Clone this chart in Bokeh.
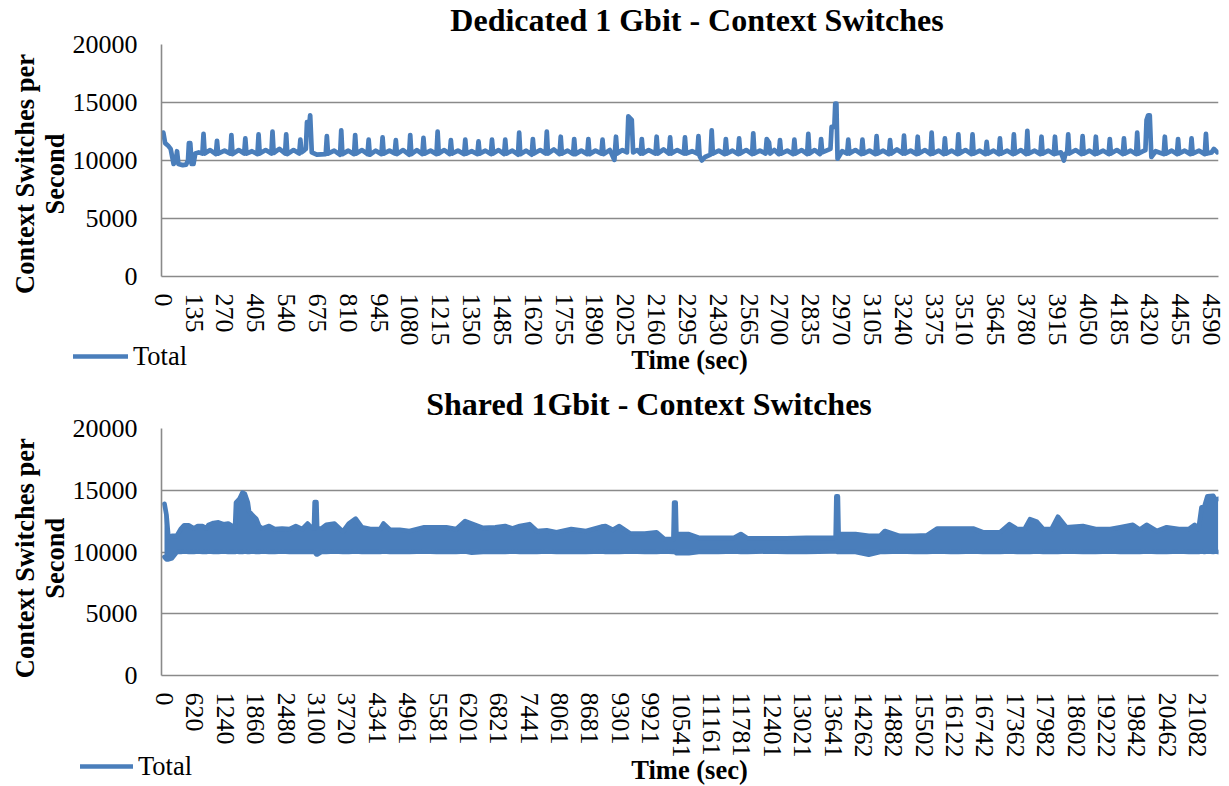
from bokeh.plotting import figure
from bokeh.models import Range1d, FixedTicker, NumeralTickFormatter, Label, Legend, LegendItem
from bokeh.layouts import column
from bokeh.embed import file_html
from bokeh.resources import INLINE

# ---------------- data ----------------
dedicated_title = "Dedicated 1 Gbit - Context Switches"
shared_title = "Shared 1Gbit - Context Switches"
y_title_lines = ["Context Switches per", "Second"]
x_title = "Time (sec)"
series_name = "Total"
y_ticks = [0, 5000, 10000, 15000, 20000]

dedicated_ticks = [0, 135, 270, 405, 540, 675, 810, 945, 1080, 1215, 1350, 1485, 1620, 1755,
                   1890, 2025, 2160, 2295, 2430, 2565, 2700, 2835, 2970, 3105, 3240, 3375, 3510,
                   3645, 3780, 3915, 4050, 4185, 4320, 4455, 4590]

shared_ticks = [0, 620, 1240, 1860, 2480, 3100, 3720, 4341, 4961, 5581, 6201, 6821, 7441, 8061,
                8681, 9301, 9921, 10541, 11161, 11781, 12401, 13021, 13641, 14262, 14882, 15502,
                16122, 16742, 17362, 17982, 18602, 19222, 19842, 20462, 21082]

# Dedicated 1 Gbit: time (sec) and context switches per second
dedicated_time = [
    0, 8, 20, 32, 45, 55, 60, 66, 85, 100, 108, 112, 118, 124, 132, 140, 155,
    171, 176, 181, 205, 230, 235, 240, 268, 293, 298, 303, 330, 354, 359, 364, 388,
    412, 417, 422, 448, 473, 478, 483, 508, 533, 538, 543, 570, 595, 600, 605, 618,
    624, 629, 636, 643, 650, 672, 711, 716, 721, 748, 774, 779, 784, 810,
    835, 840, 845, 870, 894, 899, 904, 930, 955, 960, 965, 990, 1013, 1018, 1023, 1050,
    1076, 1081, 1086, 1110, 1134, 1139, 1144, 1170, 1196, 1201, 1206, 1230,
    1254, 1259, 1264, 1290, 1317, 1322, 1327, 1350, 1375, 1380, 1385, 1410,
    1434, 1439, 1444, 1468, 1492, 1497, 1502, 1528, 1553, 1558, 1563, 1588,
    1613, 1618, 1623, 1650, 1674, 1679, 1684, 1710, 1735, 1740, 1745, 1770,
    1794, 1799, 1804, 1830, 1856, 1861, 1866, 1892, 1918, 1923, 1928, 1955,
    1975, 1982, 1987, 2010, 2030, 2036, 2051, 2057, 2075, 2090, 2095, 2100, 2125,
    2155, 2160, 2165, 2190, 2214, 2219, 2224, 2250, 2279, 2284, 2289, 2315,
    2338, 2343, 2348, 2358, 2372, 2396, 2401, 2406, 2432, 2458, 2463, 2468, 2492,
    2516, 2521, 2526, 2552, 2578, 2583, 2588, 2612, 2637, 2642, 2652, 2657, 2675,
    2695, 2700, 2705, 2732, 2758, 2763, 2768, 2795, 2819, 2824, 2829, 2852,
    2875, 2880, 2885, 2921, 2926, 2938, 2942, 2947, 2952, 2972,
    2994, 2999, 3004, 3030, 3056, 3061, 3066, 3092, 3118, 3123, 3128, 3152,
    3177, 3182, 3187, 3212, 3238, 3243, 3248, 3272, 3298, 3303, 3308, 3335,
    3359, 3364, 3369, 3395, 3417, 3422, 3427, 3452, 3476, 3481, 3486, 3512,
    3538, 3543, 3548, 3575, 3600, 3605, 3610, 3635, 3658, 3663, 3668, 3695,
    3719, 3724, 3729, 3755, 3778, 3783, 3788, 3815, 3840, 3845, 3850, 3875,
    3899, 3904, 3909, 3930, 3943, 3950, 3957, 3962, 3967, 3995,
    4020, 4025, 4030, 4055, 4078, 4083, 4088, 4115, 4139, 4144, 4149, 4175,
    4201, 4206, 4211, 4235, 4259, 4264, 4269, 4290, 4300, 4305, 4312, 4319, 4326, 4345,
    4380, 4385, 4390, 4415, 4438, 4443, 4448, 4472, 4497, 4502, 4507, 4535,
    4560, 4565, 4570, 4590, 4600, 4615,
]
dedicated_cs = [
    12400, 11500, 11300, 11000, 9700, 10000, 10800, 9700, 9600, 9650, 10000, 11500, 11500, 9700, 9700, 10600, 10700,
    10600, 12300, 10600, 10900, 10550, 11700, 10600, 10850, 10600, 12200, 10550, 10900, 10600, 11900, 10600, 10800,
    10550, 12250, 10600, 10900, 10600, 12500, 10650, 11000, 10600, 12250, 10550, 10900, 10600, 11800, 10700, 10900,
    11000, 13300, 12500, 13900, 10700, 10500, 10550, 12100, 10600, 10850, 10500, 12600, 10550, 10850,
    10550, 12200, 10600, 10900, 10550, 11800, 10500, 10850, 10550, 12000, 10600, 10850, 10600, 11750, 10550, 10900,
    10500, 12200, 10550, 10900, 10550, 11950, 10600, 10850, 10550, 12500, 10600, 10900,
    10550, 11750, 10600, 10850, 10550, 11800, 10600, 10800, 10550, 11650, 10600, 10850,
    10550, 11800, 10600, 10900, 10550, 11800, 10600, 10850, 10500, 12400, 10550, 10850,
    10500, 11850, 10600, 10900, 10600, 12500, 10600, 10950, 10550, 12050, 10600, 10850,
    10550, 11850, 10550, 10850, 10550, 11850, 10550, 10850, 10600, 11800, 10550, 10900,
    10050, 12050, 10600, 10900, 10700, 13800, 13500, 10700, 10900, 10600, 11850, 10600, 10900,
    10600, 12050, 10600, 10950, 10600, 12000, 10600, 10900, 10600, 12000, 10600, 10800,
    10600, 12100, 10400, 10000, 10300, 10500, 12600, 10600, 10850, 10550, 11850, 10600, 10850,
    10550, 11900, 10600, 10900, 10550, 12350, 10600, 10850, 10600, 11850, 11550, 10600, 10900,
    10550, 11750, 10600, 10850, 10550, 11800, 10600, 10900, 10550, 12300, 10600, 10900,
    10550, 11850, 10700, 11000, 12900, 12900, 14900, 14900, 10150, 10800,
    10600, 11800, 10600, 10900, 10550, 11800, 10600, 10850, 10550, 12100, 10600, 10850,
    10550, 11750, 10600, 10950, 10600, 12150, 10600, 10850, 10550, 12050, 10600, 10900,
    10550, 12400, 10600, 10850, 10550, 11900, 10600, 10850, 10550, 12250, 10600, 10900,
    10550, 12250, 10600, 10850, 10550, 11600, 10600, 10850, 10550, 11900, 10600, 10850,
    10550, 12250, 10600, 10900, 10550, 12550, 10600, 10850, 10550, 12050, 10600, 10850,
    10550, 12050, 10600, 10700, 10000, 10600, 10600, 12250, 10600, 10900,
    10550, 12100, 10600, 10850, 10550, 12050, 10600, 10850, 10550, 11850, 10600, 10900,
    10550, 11900, 10600, 10850, 10550, 12400, 10600, 10800, 10900, 13500, 13900, 13900, 10300, 10800,
    10550, 12050, 10600, 10850, 10550, 11850, 10600, 10850, 10550, 11900, 10600, 10850,
    10550, 12300, 10600, 10700, 11000, 10700,
]

# Shared 1Gbit: time (sec), upper and lower envelope of the dense context-switch trace
shared_time = [
    0, 40, 80, 150, 250, 330, 400, 500, 600, 680, 780, 850, 900, 1000, 1100, 1200, 1300,
    1380, 1440, 1460, 1530, 1590, 1640, 1700, 1725, 1800, 1870, 1930, 2000, 2135, 2250,
    2400, 2550, 2680, 2810, 2920, 3000, 3050, 3065, 3100, 3115, 3200, 3300, 3470, 3640,
    3760, 3900, 4030, 4200, 4400, 4470, 4600, 4800, 5000, 5300, 5550, 5750, 5950, 6135,
    6270, 6500, 6750, 6950, 7100, 7250, 7450, 7600, 7800, 8000, 8300, 8600, 8915, 9000,
    9150, 9280, 9500, 9800, 10040, 10200, 10385, 10400, 10430, 10445, 10700, 10900, 11300,
    11620, 11760, 11900, 12300, 12700, 13100, 13600, 13695, 13710, 13740, 13755, 14100,
    14370, 14600, 14700, 15000, 15300, 15560, 15770, 16040, 16200, 16500, 16700, 16900,
    17050, 17240, 17400, 17550, 17660, 17800, 17930, 18100, 18230, 18400, 18740, 19000,
    19300, 19500, 19760, 19900, 20040, 20250, 20450, 20700, 20900, 21020, 21100, 21160,
    21220, 21280, 21400, 21450, 21500,
]
shared_high = [
    13900, 13000, 11200, 11300, 11300, 11850, 12150, 12150, 11900, 12100, 12100, 11900, 12200, 12350, 12400, 12250, 12300,
    12100, 12000, 14000, 14300, 14800, 14700, 14000, 13300, 12950, 12700, 12100, 11900, 12100, 11850,
    11900, 11850, 12100, 11850, 12300, 11950, 11950, 14050, 14050, 11900, 11900, 12200, 12300, 11650,
    12300, 12700, 12000, 11850, 11850, 12300, 11800, 11800, 11700, 12000, 12000, 12000, 11850, 12500,
    12300, 11950, 12000, 12100, 11900, 12100, 12250, 11700, 11750, 11600, 11850, 11700, 12050, 12100,
    11800, 12100, 11500, 11500, 11600, 11050, 11050, 14000, 14000, 11450, 11450, 11150, 11150,
    11150, 11450, 11100, 11100, 11100, 11150, 11150, 11150, 14500, 14500, 11450, 11450,
    11300, 11300, 11700, 11300, 11300, 11350, 11900, 11900, 11900, 11900, 11600, 11600,
    11600, 12250, 11850, 11850, 12650, 12450, 11850, 11850, 12850, 12000, 12100, 11850,
    11850, 12000, 12200, 11800, 12200, 11700, 12000, 11850, 11850, 12200, 11850, 13600,
    13700, 14500, 14550, 14200, 14300,
]
shared_low = [
    9600, 9400, 9400, 9500, 10000, 10000, 10050, 10000, 10000, 10050, 10000, 10000, 10050, 10000, 10000, 10050, 10000,
    10000, 10000, 10050, 10000, 10000, 10050, 10000, 10000, 10050, 10000, 10000, 10050, 10000, 10000,
    10050, 10000, 10000, 10000, 10000, 10000, 10000, 10000, 9800, 9800, 10000, 10000, 10050, 10000,
    10000, 10050, 10000, 10000, 10000, 10050, 10000, 10000, 10000, 10050, 10000, 10000, 10000, 10050,
    9950, 10000, 10000, 10000, 10050, 10000, 10000, 10000, 10050, 10000, 10000, 10000, 10050, 10000,
    10000, 10000, 10050, 10000, 10000, 10050, 10000, 10000, 10000, 9900, 9900, 10000, 10000,
    10050, 10000, 10000, 10050, 10000, 10000, 10050, 10050, 10050, 10000, 10000, 10000,
    9780, 10000, 10000, 10050, 10000, 10000, 10050, 10000, 10000, 10050, 10000, 10000,
    10000, 10050, 10000, 10000, 10000, 10050, 10000, 10000, 10000, 10050, 10000, 10000,
    10050, 10000, 10000, 10000, 10050, 10000, 10000, 10050, 10000, 10000, 10000, 10050,
    10000, 10050, 10000, 10050, 10000,
]

# ---------------- style ----------------
FONT = "Liberation Serif"
BLUE = "#4A7EBB"
GRID = "#8A8A8A"
W, H1, H2 = 1229, 386, 400


def base_figure(height, x_range, ticks, borders):
    left, right, top, bottom = borders
    p = figure(width=W, height=height, output_backend="svg", toolbar_location=None,
               x_range=Range1d(*x_range), y_range=Range1d(0, 20000),
               min_border_left=left, min_border_right=right,
               min_border_top=top, min_border_bottom=bottom)
    p.title.text = ""
    p.title.visible = False
    p.outline_line_color = None
    p.background_fill_color = "white"
    p.border_fill_color = "white"

    p.yaxis.ticker = FixedTicker(ticks=y_ticks)
    p.yaxis.major_label_text_font = FONT
    p.yaxis.major_label_text_font_size = "26px"
    p.yaxis.major_label_text_color = "black"
    p.yaxis.major_tick_line_color = None
    p.yaxis.minor_tick_line_color = None
    p.yaxis.major_tick_out = 0
    p.yaxis.major_label_standoff = 24
    p.yaxis.axis_line_color = GRID
    p.yaxis.axis_line_width = 1.6

    p.xaxis.ticker = FixedTicker(ticks=ticks)
    p.xaxis.formatter = NumeralTickFormatter(format="0")
    p.xaxis.major_label_orientation = "vertical"
    p.xaxis.major_label_text_font = FONT
    p.xaxis.major_label_text_font_size = "26px"
    p.xaxis.major_label_text_color = "black"
    p.xaxis.major_tick_line_color = None
    p.xaxis.minor_tick_line_color = None
    p.xaxis.major_tick_out = 0
    p.xaxis.major_label_standoff = 17
    p.xaxis.axis_line_color = GRID
    p.xaxis.axis_line_width = 1.6

    p.xgrid.visible = False
    p.ygrid.grid_line_color = GRID
    p.ygrid.grid_line_width = 1.6
    return p


# ---------------- top chart ----------------
p1 = base_figure(H1, (-8, 4620), dedicated_ticks, (161, 11, 44, 110))
p1.line(dedicated_time, dedicated_cs, line_color=BLUE, line_width=4.7,
        line_join="round", line_cap="round")

# ---------------- bottom chart ----------------
p2 = base_figure(H2, (-61, 21507), shared_ticks, (159, 10, 42, 111))
p2.varea(x=shared_time, y1=shared_low, y2=shared_high, fill_color=BLUE)
p2.line(shared_time, shared_high, line_color=BLUE, line_width=4.7,
        line_join="round", line_cap="round")
p2.line(shared_time, shared_low, line_color=BLUE, line_width=4.7,
        line_join="round", line_cap="round")

charts = column(p1, p2, spacing=0)

# ---------------- text overlay (titles, axis titles, legends) ----------------
ov = figure(width=W, height=H1 + H2, output_backend="svg", toolbar_location=None,
            x_range=Range1d(0, W), y_range=Range1d(H1 + H2, 0),
            x_axis_location=None, y_axis_location=None,
            min_border_left=0, min_border_right=0, min_border_top=0, min_border_bottom=0)
ov.title.text = ""
ov.title_location = None
ov.grid.visible = False
ov.outline_line_color = None
ov.background_fill_color = None
ov.border_fill_color = None
ov.styles = {"position": "absolute", "left": "0px", "top": "0px", "z-index": "5"}


def text_label(x, y, txt, size_px, bold=False, angle=0.0):
    # (x, y) is the baseline point; the renderer places it at the em-box middle
    shift = 0.3375 * size_px
    if angle:
        x = x - shift
    else:
        y = y - shift
    ov.add_layout(Label(x=x, y=y, text=txt, angle=angle, text_align="center",
                        text_baseline="alphabetic", text_font=FONT,
                        text_font_size=f"{size_px}px",
                        text_font_style="bold" if bold else "normal", text_color="black"))


def legend(loc, glyph_w):
    r = ov.line(x=[float("nan")], y=[float("nan")], line_color=BLUE, line_width=4.7,
                line_cap="round")
    ov.add_layout(Legend(items=[LegendItem(label=series_name, renderers=[r])], location=loc,
                         padding=0, margin=0, spacing=0, glyph_width=glyph_w, glyph_height=30,
                         label_height=30, label_standoff=5, border_line_color=None,
                         background_fill_alpha=0, label_text_font=FONT,
                         label_text_font_size="26.5px", label_text_color="black"))


# top chart texts
text_label(696.5, 30.7, dedicated_title, 32, bold=True)
text_label(33.3, 173.5, y_title_lines[0], 26.5, bold=True, angle=1.5707963)
text_label(63.3, 173.5, y_title_lines[1], 26.5, bold=True, angle=1.5707963)
text_label(689, 368.3, x_title, 26.5, bold=True)
legend((73, H1 + H2 - 371.7), 55)

# bottom chart texts
text_label(648.5, 414, shared_title, 32, bold=True)
text_label(33.3, 557.7, y_title_lines[0], 26.5, bold=True, angle=1.5707963)
text_label(63.3, 557.7, y_title_lines[1], 26.5, bold=True, angle=1.5707963)
text_label(689, 778.3, x_title, 26.5, bold=True)
legend((80, H1 + H2 - 781.7), 53)

open("out.html", "w").write(file_html([charts, ov], INLINE))
